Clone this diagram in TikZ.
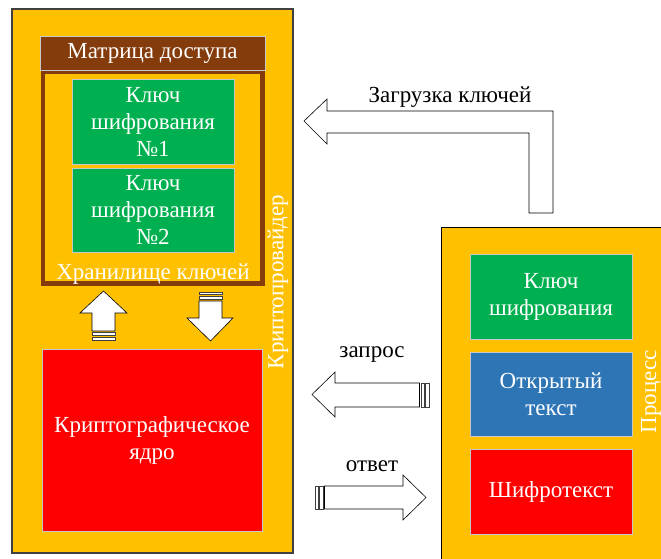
\documentclass[tikz,border=0pt]{standalone}
\usepackage{fontspec}
\setmainfont{Liberation Serif}
\usetikzlibrary{positioning}
\definecolor{gold}{HTML}{FFC000}
\definecolor{keybrown}{HTML}{843C0C}
\definecolor{keygreen}{HTML}{00B050}
\definecolor{textblue}{HTML}{2E75B6}
\definecolor{corered}{HTML}{FF0000}
\definecolor{edgegray}{HTML}{C8C8C8}

\begin{document}
\begin{tikzpicture}[x=1pt, y=-1pt, font=\fontsize{23}{27}\selectfont,
  frame/.style={draw=black!75, line width=1.2pt, fill=gold, inner sep=0pt},
  block/.style={draw=edgegray, line width=0.8pt, text=white, align=center, inner sep=0pt},
  blockarrow/.style={draw=black, line width=0.6pt, fill=white, line join=miter},
  stripe/.style={draw=black!75, line width=0.6pt, fill=white}]

  \clip (0,0) rectangle (661,559);
  \fill[white] (0,0) rectangle (661,559);

  % Crypto provider
  \node[frame, minimum width=281pt, minimum height=544pt] (prov) at (152.5,281) {};
  \node[rotate=90, text=white] (provlbl) at (278,282) {Криптопровайдер};

  % Key storage
  \node[draw=keybrown, line width=4.5pt, minimum width=219.5pt, minimum height=211.5pt] (store) at (152.75,177.75) {};
  \node[block, fill=keybrown, minimum width=225pt, minimum height=34pt] (matrix) at (152.5,53) {Матрица доступа};
  \node[block, fill=keygreen, minimum width=162pt, minimum height=85pt] (key1) at (153,121.5) {Ключ\\шифрования\\№1};
  \node[block, fill=keygreen, minimum width=162pt, minimum height=84pt] (key2) at (153,210) {Ключ\\шифрования\\№2};
  \node[text=white, anchor=base] (storelbl) at (153,279) {Хранилище ключей};

  % Crypto core
  \node[block, fill=corered, minimum width=220pt, minimum height=182pt] (core) at (152,440) {Криптографическое\\ядро};

  % Core <-> storage
  \draw[stripe] (92,332.5) rectangle (115,335.5);
  \draw[stripe] (92,337) rectangle (115,340.5);
  \draw[blockarrow] (103.5,291) -- (127,313) -- (115,313) -- (115,331) -- (92,331) -- (92,313) -- (80,313) -- cycle;
  \draw[stripe] (199,292) rectangle (222,294.5);
  \draw[stripe] (199,296) rectangle (222,299.5);
  \draw[blockarrow] (199,301) -- (222,301) -- (222,318) -- (233,318) -- (210.5,341) -- (187,318) -- (199,318) -- cycle;

  % Process
  \node[frame, draw=black, anchor=north west, minimum width=260pt, minimum height=360pt] (proc) at (441,227) {};
  \node[rotate=90, text=white] (proclbl) at (651,392) {Процесс};
  \node[block, fill=keygreen, minimum width=162pt, minimum height=85pt] (pkey) at (551,296.5) {Ключ\\шифрования};
  \node[block, fill=textblue, minimum width=162pt, minimum height=84pt] (plain) at (551,394) {Открытый\\текст};
  \node[block, fill=corered, minimum width=162pt, minimum height=85pt] (cipher) at (551,491.5) {Шифротекст};

  % Key loading
  \draw[blockarrow] (304,121) -- (327,99) -- (327,111) -- (553,111) -- (553,213) -- (529,213) -- (529,133) -- (327,133) -- (327,144) -- cycle;
  \node[anchor=base] (loadlbl) at (450,102.5) {Загрузка ключей};

  % Request
  \draw[blockarrow] (312,394.5) -- (335,372) -- (335,383) -- (419.5,383) -- (419.5,407) -- (335,407) -- (335,417) -- cycle;
  \draw[stripe] (421,383) rectangle (424.3,407);
  \draw[stripe] (425.7,383) rectangle (429,407);
  \node[anchor=base] (reqlbl) at (372,357) {запрос};

  % Response
  \draw[stripe] (315,486) rectangle (318.3,509);
  \draw[stripe] (319.7,486) rectangle (323,509);
  \draw[blockarrow] (324.5,486) -- (403,486) -- (403,475) -- (426,497.5) -- (403,520) -- (403,509) -- (324.5,509) -- cycle;
  \node[anchor=base] (resplbl) at (372,471.5) {ответ};
\end{tikzpicture}
\end{document}
